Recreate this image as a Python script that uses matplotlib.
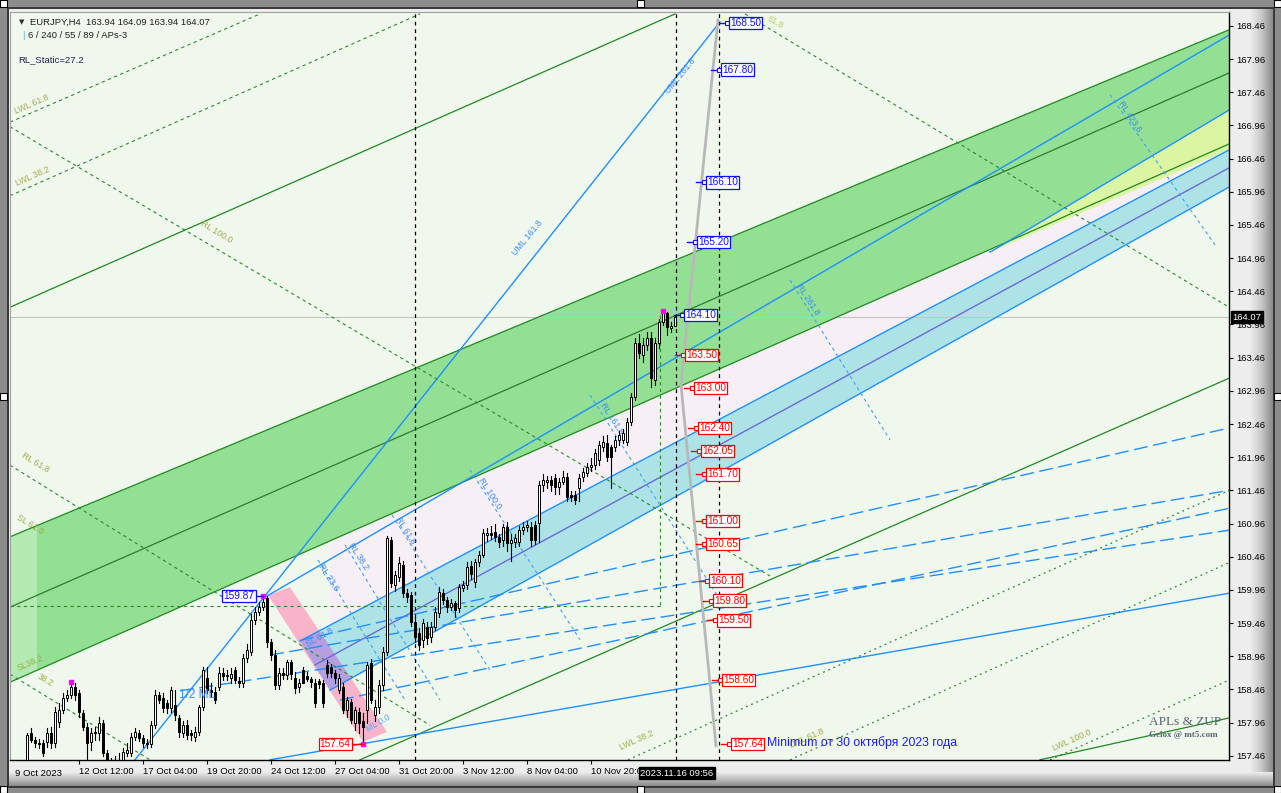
import matplotlib
matplotlib.use("Agg")
import matplotlib.pyplot as plt
import numpy as np
from matplotlib.patches import Rectangle, Polygon
from matplotlib.transforms import blended_transform_factory

plt.rcParams['font.family'] = ['Liberation Sans', 'DejaVu Sans']

# ---------------- data (bar index 0 = 9 Oct 2023 00:00, H4 bars) ----------------
first_bar = 8
opens = [157.40, 157.80, 157.70, 157.66, 157.65, 157.67, 157.80, 157.65, 157.97, 158.15,
         158.33, 158.38, 158.50, 158.40, 158.10, 157.89, 157.67, 157.82, 157.80, 157.95,
         157.50, 157.38, 157.25, 157.30, 157.39, 157.50, 157.50, 157.74, 157.80, 157.73,
         157.66, 157.64, 157.92, 158.37, 158.33, 158.25, 158.18, 158.23, 158.03, 157.80,
         157.92, 157.80, 157.74, 157.82, 158.19, 158.63, 158.45, 158.42, 158.50, 158.71,
         158.66, 158.64, 158.75, 158.58, 158.56, 158.93, 159.03, 159.50, 159.62, 159.70,
         159.84, 159.17, 158.98, 158.53, 158.71, 158.68, 158.87, 158.63, 158.50, 158.75,
         158.66, 158.62, 158.56, 158.58, 158.56, 158.83, 158.80, 158.71, 158.45, 158.50,
         158.15, 158.27, 157.95, 158.12, 157.98, 158.15, 158.86, 158.07, 158.19, 158.53,
         159.02, 160.71, 160.03, 160.15, 160.34, 159.91, 159.88, 159.48, 159.31, 159.20,
         159.40, 159.25, 159.40, 159.61, 159.91, 159.81, 159.70, 159.76, 159.69, 159.99,
         160.03, 160.32, 160.08, 160.38, 160.49, 160.79, 160.82, 160.83, 160.76, 160.71,
         160.91, 160.67, 160.68, 160.68, 160.86, 160.91, 160.91, 160.94, 160.97, 161.54,
         161.59, 161.62, 161.65, 161.51, 161.59, 161.66, 161.39, 161.39, 161.50, 161.66,
         161.72, 161.81, 161.84, 161.92, 162.11, 162.17, 162.11, 162.11, 162.22, 162.22,
         162.19, 162.49, 162.87, 163.68, 163.50, 163.65, 163.76, 163.12, 163.68, 164.00,
         164.13, 163.91, 163.94]
highs = [157.80, 157.88, 157.75, 157.72, 157.70, 157.88, 157.90, 158.20, 158.25, 158.40,
         158.45, 158.57, 158.56, 158.45, 158.15, 157.95, 157.88, 157.90, 158.05, 158.00,
         157.55, 157.42, 157.45, 157.50, 157.58, 157.65, 157.80, 157.88, 157.85, 157.78,
         157.72, 157.98, 158.45, 158.42, 158.40, 158.30, 158.50, 158.45, 158.08, 157.98,
         158.00, 157.85, 157.90, 158.22, 158.80, 158.80, 158.55, 158.50, 158.80, 158.78,
         158.75, 158.78, 158.80, 158.65, 159.00, 159.15, 159.60, 159.70, 159.78, 159.87,
         159.87, 159.22, 159.05, 158.78, 158.78, 158.90, 158.90, 158.72, 158.62, 158.80,
         158.72, 158.65, 158.62, 158.62, 158.60, 158.90, 158.85, 158.75, 158.70, 158.55,
         158.35, 158.32, 158.20, 158.18, 158.10, 158.88, 158.92, 158.30, 158.60, 159.10,
         160.78, 160.76, 160.25, 160.45, 160.40, 159.98, 159.93, 159.55, 159.38, 159.52,
         159.48, 159.48, 159.70, 160.00, 159.98, 159.85, 159.82, 159.80, 160.05, 160.10,
         160.38, 160.40, 160.42, 160.55, 160.88, 160.90, 160.92, 160.95, 160.80, 160.95,
         160.98, 160.80, 160.80, 160.92, 160.98, 161.00, 160.98, 161.00, 161.60, 161.70,
         161.68, 161.68, 161.70, 161.65, 161.75, 161.72, 161.45, 161.45, 161.70, 161.80,
         161.88, 161.95, 162.08, 162.20, 162.28, 162.30, 162.15, 162.28, 162.35, 162.38,
         162.55, 162.92, 163.75, 163.82, 163.75, 163.85, 163.85, 163.75, 164.05, 164.16,
         164.15, 164.00, 164.09]
lows = [157.30, 157.67, 157.60, 157.58, 157.45, 157.60, 157.58, 157.60, 157.90, 158.10,
        158.28, 158.33, 158.30, 158.05, 157.85, 157.40, 157.55, 157.70, 157.70, 157.45,
        157.20, 157.15, 157.10, 157.20, 157.30, 157.45, 157.45, 157.70, 157.68, 157.60,
        157.58, 157.60, 157.88, 158.25, 158.12, 158.10, 158.12, 158.00, 157.75, 157.75,
        157.72, 157.70, 157.68, 157.78, 158.15, 158.40, 158.35, 158.25, 158.45, 158.60,
        158.60, 158.55, 158.55, 158.50, 158.50, 158.88, 158.98, 159.45, 159.58, 159.65,
        159.10, 158.90, 158.47, 158.47, 158.62, 158.62, 158.62, 158.40, 158.42, 158.55,
        158.58, 158.50, 158.20, 158.48, 158.20, 158.65, 158.65, 158.55, 158.40, 158.10,
        158.05, 157.95, 157.85, 157.80, 157.64, 157.95, 158.25, 157.98, 158.10, 158.45,
        158.98, 160.00, 159.95, 160.10, 159.85, 159.78, 159.42, 159.18, 159.05, 159.10,
        159.15, 159.18, 159.35, 159.55, 159.75, 159.62, 159.65, 159.55, 159.62, 159.95,
        159.98, 160.12, 160.00, 160.32, 160.45, 160.70, 160.72, 160.70, 160.60, 160.62,
        160.55, 160.40, 160.60, 160.62, 160.80, 160.85, 160.62, 160.65, 160.68, 161.45,
        161.50, 161.45, 161.40, 161.40, 161.55, 161.30, 161.30, 161.25, 161.30, 161.60,
        161.68, 161.75, 161.78, 161.85, 162.05, 161.90, 161.50, 162.05, 162.15, 162.18,
        162.15, 162.45, 162.82, 163.45, 163.40, 163.58, 163.02, 163.05, 163.60, 163.95,
        163.80, 163.85, 163.94]
closes = [157.77, 157.70, 157.66, 157.64, 157.50, 157.80, 157.65, 158.12, 158.15, 158.33,
          158.38, 158.50, 158.38, 158.12, 157.89, 157.65, 157.80, 157.80, 157.95, 157.50,
          157.38, 157.25, 157.30, 157.35, 157.52, 157.55, 157.74, 157.82, 157.73, 157.66,
          157.64, 157.92, 158.37, 158.30, 158.18, 158.18, 158.45, 158.07, 157.82, 157.92,
          157.77, 157.77, 157.82, 158.19, 158.75, 158.45, 158.42, 158.30, 158.71, 158.66,
          158.68, 158.69, 158.60, 158.56, 158.93, 159.05, 159.50, 159.62, 159.70, 159.78,
          159.17, 158.98, 158.53, 158.71, 158.68, 158.87, 158.70, 158.48, 158.56, 158.56,
          158.62, 158.57, 158.26, 158.54, 158.26, 158.71, 158.71, 158.63, 158.63, 158.15,
          158.30, 158.00, 158.15, 157.95, 157.90, 158.83, 158.30, 158.19, 158.53, 159.02,
          160.74, 160.06, 160.18, 160.37, 159.91, 159.85, 159.48, 159.25, 159.13, 159.46,
          159.24, 159.40, 159.63, 159.93, 159.81, 159.70, 159.76, 159.66, 160.00, 160.03,
          160.31, 160.20, 160.38, 160.49, 160.82, 160.82, 160.79, 160.76, 160.68, 160.91,
          160.67, 160.71, 160.74, 160.86, 160.91, 160.94, 160.71, 160.71, 161.54, 161.62,
          161.62, 161.54, 161.51, 161.59, 161.66, 161.36, 161.36, 161.32, 161.65, 161.74,
          161.81, 161.84, 162.02, 162.14, 162.19, 161.96, 161.96, 162.22, 162.29, 162.32,
          162.49, 162.87, 163.68, 163.53, 163.65, 163.76, 163.15, 163.68, 164.00, 164.13,
          163.92, 163.94, 164.07]

price_ticks = [157.46, 157.96, 158.46, 158.96, 159.46, 159.96, 160.46, 160.96, 161.46,
               161.96, 162.46, 162.96, 163.46, 163.96, 164.46, 164.96, 165.46, 165.96,
               166.46, 166.96, 167.46, 167.96, 168.46]
time_tick_bars = [21, 37, 53, 69, 85, 101, 117, 133, 149]
time_tick_labels = ['12 Oct 12:00', '17 Oct 04:00', '19 Oct 20:00', '24 Oct 12:00',
                    '27 Oct 04:00', '31 Oct 20:00', '3 Nov 12:00', '8 Nov 04:00', '10 Nov 20:00']
last_price = 164.07

# price tags (price, bar position of the tag box, colour)
tag_prices = [168.50, 167.80, 166.10, 165.20, 164.10, 163.50, 163.00, 162.40, 162.05,
              161.70, 161.00, 160.65, 160.10, 159.80, 159.50, 158.60, 157.64]
tag_bars = [183.5, 181.5, 177.75, 175.5, 172.25, 172.5, 174.75, 175.75, 176.5,
            177.75, 177.75, 177.75, 178.5, 179.5, 180.5, 181.75, 184.0]
tag_colors = ['#1010ff'] * 5 + ['#ff0000'] * 12

# channels / objects (bar, price) anchors
green_upper = [(3.75, 160.76), (308.5, 168.40)]
green_mid = [(3.75, 159.70), (308.5, 167.75)]
green_lower = [(3.75, 158.57), (308.5, 166.68)]
green_top_par = [(3.75, 164.22), (170.0, 168.64)]
green_bot_par = [(91.25, 157.40), (308.5, 163.15)]
green_bot_right = [(261.25, 157.40), (308.5, 158.03)]

cyan_top = [(76.25, 159.19), (308.5, 166.59)]
cyan_mid = [(80.0, 158.83), (308.5, 166.32)]
cyan_bot = [(83.75, 158.45), (308.5, 166.03)]
pink_band = [(68.25, 159.88), (73.75, 160.00), (98.0, 157.82), (92.0, 157.67)]
yellow_wedge = [(248.75, 165.05), (308.5, 167.19), (308.5, 166.59)]

blue_solid = [[(35.0, 157.40), (181.25, 168.52)],
              [(67.5, 159.85), (308.5, 168.32)],
              [(68.75, 157.40), (308.5, 159.91)],
              [(248.75, 165.05), (308.5, 167.19)]]
blue_longdash = [[(76.25, 159.20), (308.5, 162.40)],
                 [(68.75, 158.98), (308.5, 161.46)],
                 [(86.25, 158.30), (308.5, 161.19)],
                 [(46.25, 158.44), (308.5, 160.86)]]
blue_rl = [[(80.75, 160.41), (102.5, 158.30)],
           [(87.5, 160.64), (111.25, 158.30)],
           [(99.25, 161.09), (123.75, 158.75)],
           [(118.75, 161.77), (146.25, 159.21)],
           [(148.75, 162.90), (181.25, 159.81)],
           [(198.75, 164.63), (223.75, 162.22)],
           [(278.75, 167.42), (305.0, 165.16)]]
green_dashed = [[(3.75, 167.01), (66.25, 168.64)],
                [(3.75, 165.90), (106.25, 168.64)],
                [(3.75, 166.94), (193.75, 160.17)],
                [(187.5, 168.64), (308.5, 164.22)],
                [(3.75, 161.84), (108.75, 157.92)],
                [(3.75, 158.69), (38.75, 157.40)],
                [(3.75, 159.72), (166.25, 159.72)],
                [(166.25, 164.10), (166.25, 159.72)]]
green_dotted = [[(158.25, 157.40), (308.5, 161.46)],
                [(198.75, 157.40), (308.5, 160.37)],
                [(263.75, 157.40), (308.5, 158.60)]]
black_vlines = [105.0, 170.25, 181.0]
gray_path = [(180.75, 168.55), (171.5, 163.05), (180.25, 157.61)]
pivot_points = [(19, 158.57), (67, 159.87), (167, 164.16), (92, 157.64)]

# line labels: (text, bar, price, rotation, colour)
line_labels = [
    ('LWL 61.8', 9.25, 167.28, 24, '#9ab04a'), ('LWL 38.2', 9.5, 166.20, 24, '#9ab04a'),
    ('RL 100.0', 55.25, 165.35, -31, '#9ab04a'), ('RL 61.8', 10.0, 161.87, -31, '#9ab04a'),
    ('SL 61.8', 8.75, 160.95, -31, '#9ab04a'), ('SL38.2', 8.75, 158.86, 24, '#9ab04a'),
    ('38.2', 12.5, 158.60, -30, '#9ab04a'),
    ('UML 261.8', 171.25, 167.70, 51, '#3c8cff'), ('UML 161.8', 133.25, 165.26, 51, '#3c8cff'),
    ('RL 261.8', 203.25, 164.33, -57, '#3c8cff'), ('RL 423.6', 283.75, 167.09, -57, '#3c8cff'),
    ('RL 161.8', 154.25, 162.55, -57, '#3c8cff'), ('RL 100.0', 123.75, 161.41, -57, '#3c8cff'),
    ('RL 61.8', 102.5, 160.86, -57, '#3c8cff'), ('RL 38.2', 90.75, 160.46, -57, '#3c8cff'),
    ('RL 23.6', 83.25, 160.15, -57, '#3c8cff'), ('SL 61.8', 81.25, 159.24, 30, '#3c8cff'),
    ('ML 0.0', 95.75, 157.95, 30, '#5aa8ff'),
    ('LWL 38.2', 160.5, 157.70, 24, '#9ab04a'), ('LWL 61.8', 203.0, 157.73, 24, '#9ab04a'),
    ('LWL 100.0', 269.25, 157.70, 24, '#9ab04a'), ('61.8', 195.0, 168.52, -30, '#b8d060'),
]

# ---------------- figure ----------------
W, H = 1281, 793
fig = plt.figure(figsize=(W / 100, H / 100), dpi=100)
fig.patch.set_facecolor('#8c8c8c')

bg = fig.add_axes([0, 0, 1, 1], zorder=-5)
bg.set_xlim(0, W); bg.set_ylim(H, 0); bg.axis('off')
bg.add_patch(Rectangle((7, 7), 1268, 781, fc='#3a3a3a', ec='none'))
bg.add_patch(Rectangle((9, 9), 1264, 777, fc='#ededed', ec='none'))
grad_h = np.linspace(0, 1, 64)[None, :]
bg.imshow(grad_h, extent=(1250, 1273, 786, 9), cmap=matplotlib.colors.LinearSegmentedColormap.from_list(
    'g1', ['#ededed', '#c8c8c8', '#8a8a8a']), aspect='auto', zorder=1)
grad_v = np.linspace(0, 1, 64)[:, None]
bg.imshow(grad_v, extent=(9, 1273, 786, 772), cmap=matplotlib.colors.LinearSegmentedColormap.from_list(
    'g2', ['#ededed', '#c0c0c0', '#8a8a8a']), aspect='auto', zorder=1)
for hx, hy in [(0, 0), (637, 0), (1274, 0), (0, 393), (1274, 393), (0, 786), (637, 786), (1274, 786)]:
    bg.add_patch(Rectangle((hx, hy), 7, 7, fc='white', ec='black', lw=0.8, zorder=3))

ax = fig.add_axes([10 / W, 33 / H, 1219 / W, 748 / H])
ax.set_facecolor('#f0f8ee')
ax.set_xlim(3.75, 308.5)
ax.set_ylim(157.397, 168.669)


def poly(pts, **kw):
    p = Polygon(pts, closed=True, **kw)
    ax.add_patch(p)
    return p


poly([(83.75, 160.70), green_lower[1], cyan_bot[1], cyan_bot[0]], fc='#f6eff6', ec='none', zorder=0.5)
poly([green_upper[0], green_upper[1], green_lower[1], green_lower[0]], fc='#93df93', ec='none', zorder=1)
# lighter left strip of the green band
poly([green_upper[0], (10.5, 160.93), (10.5, 158.75), green_lower[0]], fc='#b2eab2', ec='none', zorder=1.05)
poly(yellow_wedge, fc='#dcf5a2', ec='none', zorder=1.1)
cyan_pts = [cyan_top[0], cyan_top[1], cyan_bot[1], cyan_bot[0]]
poly(cyan_pts, fc='#ade3e7', ec='none', zorder=1.2)
pink = poly(pink_band, fc='#f9b4cb', ec='none', zorder=1.3)
overlap = poly(cyan_pts, fc='#b59fe0', ec='none', zorder=1.4)
overlap.set_clip_path(pink)


def line(pts, **kw):
    xs, ys = zip(*pts)
    ax.plot(xs, ys, **kw)


for seg, c in [(green_upper, '#1f8a1f'), (green_mid, '#2e7d2e'), (green_lower, '#1f8a1f'),
               (green_top_par, '#1f8a1f'), (green_bot_par, '#1f8a1f'), (green_bot_right, '#1f8a1f')]:
    line(seg, color=c, lw=0.9, zorder=2)
for seg in (cyan_top, cyan_bot):
    line(seg, color='#1e90ff', lw=1.0, zorder=2)
line(cyan_mid, color='#6a6ad8', lw=1.0, zorder=2)
for seg in blue_solid:
    line(seg, color='#1e90ff', lw=1.0, zorder=2)
for seg in blue_longdash:
    line(seg, color='#1e90ff', lw=1.0, dashes=(10, 4), zorder=2)
for seg in blue_rl:
    line(seg, color='#3ca0ff', lw=0.8, dashes=(3, 3), zorder=2)
for seg in green_dashed:
    line(seg, color='#2a8a2a', lw=0.8, dashes=(3, 3), zorder=2)
for seg in green_dotted:
    line(seg, color='#2a8a2a', lw=0.9, dashes=(1.5, 3), zorder=2)
for bx in black_vlines:
    ax.axvline(bx, color='black', lw=0.9, dashes=(3, 3), zorder=2.2)
ax.axhline(last_price, color='#c4c4c4', lw=0.8, zorder=1.5)
line(gray_path, color='#b8b8b8', lw=2.0, zorder=2.3)

# candles
for k in range(len(opens)):
    b = first_bar + k
    o, h, l, c = opens[k], highs[k], lows[k], closes[k]
    ax.plot([b, b], [l, h], color='black', lw=0.8, zorder=4)
    bottom = min(o, c)
    height = max(abs(c - o), 0.012)
    fc = 'white' if c >= o else 'black'
    ax.add_patch(Rectangle((b - 0.36, bottom), 0.72, height, fc=fc, ec='black', lw=0.7, zorder=5))

for pb, pp in pivot_points:
    ax.plot(pb, pp, 's', ms=2.5, color='#ff00ff', zorder=6)

# labels on lines
for t, bx, py, rot, c in line_labels:
    ax.text(bx, py, t, rotation=rot, color=c, fontsize=6.3, ha='center', va='center',
            rotation_mode='anchor', zorder=3)
ax.text(50.5, 158.37, '1/2 ML', color='#3c8cff', fontsize=8.5, ha='center', va='center', zorder=5.5)

# price tags
for p, bx, c in zip(tag_prices, tag_bars, tag_colors):
    ax.plot([bx - 2.6, bx - 0.3], [p, p], color=c, lw=1.0, zorder=6)
    ax.plot(bx - 0.5, p, 's', ms=2.6, mfc='white', mec=c, mew=0.8, zorder=6.5)
    ax.text(bx + 0.3, p, f'{p:.2f}', color=c, fontsize=7.3, ha='left', va='center', zorder=7,
            bbox=dict(boxstyle='square,pad=0.12', fc='white', ec=c, lw=0.9))
# left tags
ax.plot([65.0, 67.0], [159.87, 159.87], color='#1010ff', lw=1.0, zorder=6)
ax.text(64.9, 159.87, '159.87', color='#1010ff', fontsize=7.3, ha='right', va='center', zorder=7,
        bbox=dict(boxstyle='square,pad=0.12', fc='white', ec='#1010ff', lw=0.9))
ax.plot([89.0, 92.0], [157.64, 157.64], color='#ff0000', lw=1.0, zorder=6)
ax.text(88.9, 157.64, '157.64', color='#ff0000', fontsize=7.3, ha='right', va='center', zorder=7,
        bbox=dict(boxstyle='square,pad=0.12', fc='white', ec='#ff0000', lw=0.9))
ax.text(193.0, 157.66, 'Minimum от 30 октября 2023 года', color='#1a1aff', fontsize=8.8,
        ha='left', va='center', zorder=7)

# watermark
ax.text(297.5, 157.97, 'APLs & ZUP', family='Liberation Serif', fontsize=9.5, color='#56646f',
        ha='center', va='center', zorder=7)
ax.text(297.0, 157.78, 'Gelox @ mt5.com', family='Liberation Serif', fontsize=6.5, color='#56646f',
        fontweight='bold', ha='center', va='center', zorder=7)

# axes styling
for s in ('left', 'top'):
    ax.spines[s].set_color('#a0a0a0'); ax.spines[s].set_linewidth(0.8)
for s in ('right', 'bottom'):
    ax.spines[s].set_color('black'); ax.spines[s].set_linewidth(1.0)
ax.yaxis.tick_right()
ax.set_yticks(price_ticks)
ax.set_yticklabels([f'{v:.2f}' for v in price_ticks])
ax.tick_params(axis='y', direction='out', length=3, width=0.8, pad=2, labelsize=6.8, colors='black')
ax.set_xticks(time_tick_bars)
ax.set_xticklabels(time_tick_labels, ha='left')
ax.tick_params(axis='x', direction='out', length=3, width=0.8, pad=2, labelsize=6.8, colors='black')
tr = blended_transform_factory(ax.transData, ax.transAxes)
ax.text(4.9, -0.012, '9 Oct 2023', transform=tr, fontsize=6.8, ha='left', va='top', zorder=8)
ax.text(170.4, -0.0115, '2023.11.16 09:56', transform=tr, color='white', fontsize=6.8, ha='center',
        va='top', zorder=9, clip_on=False,
        bbox=dict(boxstyle='square,pad=0.15', fc='black', ec='black'))
tr2 = blended_transform_factory(ax.transAxes, ax.transData)
ax.text(1.003, last_price, f'{last_price:.2f}', transform=tr2, color='white', fontsize=6.8,
        ha='left', va='center', zorder=9, clip_on=False,
        bbox=dict(boxstyle='square,pad=0.15', fc='black', ec='black'))

# header texts
fig.text(19 / W, 1 - 22 / H, '▼', family='DejaVu Sans', fontsize=5, va='center', color='#303030')
fig.text(30 / W, 1 - 22 / H, 'EURJPY,H4  163.94 164.09 163.94 164.07', fontsize=6.8,
         va='center', color='#202020')
fig.text(22 / W, 1 - 35 / H, '|', fontsize=6.8, va='center', color='#5ab4e6')
fig.text(28 / W, 1 - 35 / H, '6 / 240 / 55 / 89 / APs-3', fontsize=6.8, va='center', color='#202020')
fig.text(18 / W, 1 - 60 / H, 'RL_Static=27.2', fontsize=6.8, va='center', color='#202050')

fig.savefig('out.png', dpi=100, facecolor=fig.get_facecolor())
